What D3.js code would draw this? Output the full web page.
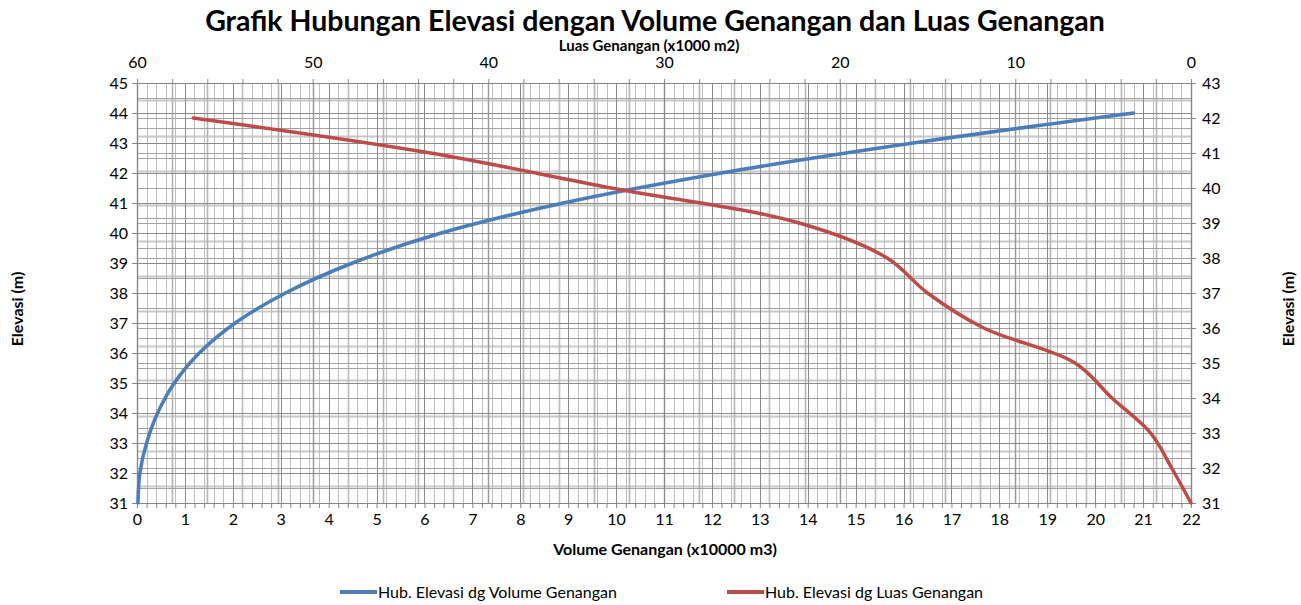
<!DOCTYPE html>
<html><head><meta charset="utf-8">
<script src="https://cdn.jsdelivr.net/npm/d3@7"></script>
<style>body{margin:0;background:#fff} text{font-family:Lato,'Open Sans',sans-serif;fill:#000}</style>
</head><body><svg id="c" width="1301" height="605"></svg>
<script>
// ---- data ----
const volElev   = [31, 32, 33, 34, 35, 36, 37, 38, 39, 40, 41, 42, 43, 44];
const volValues = [0.02, 0.06, 0.2, 0.43, 0.78, 1.3, 2.05, 3.1, 4.5, 6.35, 8.9, 12.2, 16.2, 20.8];
const luasElev   = [31, 32, 33, 34, 35, 36, 37, 38, 39, 40, 41, 42];
const luasValues = [0, 1.1, 2.3, 4.5, 6.6, 11.8, 15.0, 17.3, 22.3, 33.0, 43.3, 56.8];
const bottomTicks = d3.range(0, 23);
const topTicks = [60, 50, 40, 30, 20, 10, 0];
const leftTicks = d3.range(31, 46);
const rightTicks = d3.range(31, 44);
const seriesNames = ["Hub. Elevasi dg Volume Genangan", "Hub. Elevasi dg Luas Genangan"];
const seriesColors = ["#4a7ebb", "#be4b48"];

// ---- layout ----
const W = 1301, H = 605;
const m = {l: 137, r: 110, t: 83, b: 102};
const iw = W - m.l - m.r, ih = H - m.t - m.b;
const svg = d3.select("#c");
const g = svg.append("g").attr("transform", `translate(${m.l},${m.t})`);

const xB = d3.scaleLinear().domain([0, 22]).range([0, iw]);
const xT = d3.scaleLinear().domain([60, 0]).range([0, iw]);
const yL = d3.scaleLinear().domain([31, 45]).range([ih, 0]);
const yR = d3.scaleLinear().domain([31, 43]).range([ih, 0]);

const steps = (a, b, s) => d3.range(0, Math.round((b - a) / s) + 1).map(i => +(a + i * s).toFixed(4));

function vlines(vals, sc, color, w) {
  g.append("g").selectAll("line").data(vals).join("line")
    .attr("x1", d => Math.round(sc(d)) + 0.5).attr("x2", d => Math.round(sc(d)) + 0.5)
    .attr("y1", 0).attr("y2", ih).attr("stroke", color).attr("stroke-width", w);
}
function hlines(vals, sc, color, w) {
  g.append("g").selectAll("line").data(vals).join("line")
    .attr("y1", d => Math.round(sc(d)) + 0.5).attr("y2", d => Math.round(sc(d)) + 0.5)
    .attr("x1", 0).attr("x2", iw).attr("stroke", color).attr("stroke-width", w);
}
// gridlines (light first)
hlines(steps(31.5, 42.5, 1), yR, "#c8c8c8", 2.2);
vlines(steps(0, 60, 2), xT, "#b4b4b4", 1.6);
vlines(steps(0, 22, 0.2), xB, "#bdbdbd", 1);
hlines(steps(31, 43, 1), yR, "#a2a2a2", 1);
hlines(steps(31.5, 44.5, 1), yL, "#a2a2a2", 1);
vlines(steps(0, 60, 10), xT, "#999", 1);
vlines(bottomTicks, xB, "#8a8a8a", 1);
hlines(leftTicks, yL, "#8a8a8a", 1);

// axes
const FS = "16px";
const axisStyle = sel => {
  sel.selectAll(".domain").attr("stroke", "#868686");
  sel.selectAll(".tick line").attr("stroke", "#868686");
  sel.selectAll("text").style("font-size", FS).style("font-family", "Lato,'Open Sans',sans-serif").attr("fill", "#000");
};
const minorB = steps(0, 22, 0.2);
g.append("g").attr("transform", `translate(0,${ih})`)
  .call(d3.axisBottom(xB).tickValues(minorB).tickSize(5).tickSizeOuter(0)
    .tickFormat(d => Number.isInteger(d) ? d : ""))
  .call(axisStyle).call(s => s.selectAll("text").attr("dy", "0.85em"));
g.append("g")
  .call(d3.axisTop(xT).tickValues(steps(0, 60, 2)).tickSize(4).tickSizeOuter(0)
    .tickFormat(d => topTicks.includes(d) ? d : ""))
  .call(axisStyle).call(s => s.selectAll("text").attr("dy", "-0.5em"));
g.append("g")
  .call(d3.axisLeft(yL).tickValues(leftTicks).tickSize(5).tickSizeOuter(0).tickFormat(d3.format("d")))
  .call(axisStyle).call(s => s.selectAll("text").attr("x", -9));
g.append("g").attr("transform", `translate(${iw},0)`)
  .call(d3.axisRight(yR).tickValues(rightTicks).tickSize(5).tickSizeOuter(0).tickFormat(d3.format("d")))
  .call(axisStyle).call(s => s.selectAll("text").attr("x", 11));

// series
const lineVol = d3.line().curve(d3.curveCatmullRom.alpha(0.5))
  .x((d, i) => xB(volValues[i])).y(d => yL(d));
const lineLuas = d3.line().curve(d3.curveCatmullRom.alpha(0.5))
  .x((d, i) => xT(luasValues[i])).y(d => yR(d));
g.append("path").attr("d", lineVol(volElev)).attr("fill", "none")
  .attr("stroke", seriesColors[0]).attr("stroke-width", 3.5).attr("stroke-linecap", "round");
g.append("path").attr("d", lineLuas(luasElev)).attr("fill", "none")
  .attr("stroke", seriesColors[1]).attr("stroke-width", 3.5).attr("stroke-linecap", "round");

// titles
svg.append("text").attr("x", 655).attr("y", 31).attr("text-anchor", "middle")
  .style("font-size", "28.5px").style("font-weight", "bold")
  .text("Grafik Hubungan Elevasi dengan Volume Genangan dan Luas Genangan");
svg.append("text").attr("x", 649).attr("y", 51).attr("text-anchor", "middle")
  .style("font-size", "15px").style("font-weight", "bold").text("Luas Genangan (x1000 m2)");
svg.append("text").attr("x", 665).attr("y", 555).attr("text-anchor", "middle")
  .style("font-size", "16px").style("font-weight", "bold").text("Volume Genangan (x10000 m3)");
svg.append("text").attr("transform", "translate(23,309) rotate(-90)").attr("text-anchor", "middle")
  .style("font-size", "16px").style("font-weight", "bold").text("Elevasi (m)");
svg.append("text").attr("transform", "translate(1294,309) rotate(-90)").attr("text-anchor", "middle")
  .style("font-size", "16px").style("font-weight", "bold").text("Elevasi (m)");

// legend
const legX = [340, 727];
seriesNames.forEach((n, i) => {
  svg.append("line").attr("x1", legX[i]).attr("x2", legX[i] + 37).attr("y1", 592).attr("y2", 592)
    .attr("stroke", seriesColors[i]).attr("stroke-width", 4);
  svg.append("text").attr("x", legX[i] + 38).attr("y", 598).style("font-size", "16px").text(n);
});
</script></body></html>
